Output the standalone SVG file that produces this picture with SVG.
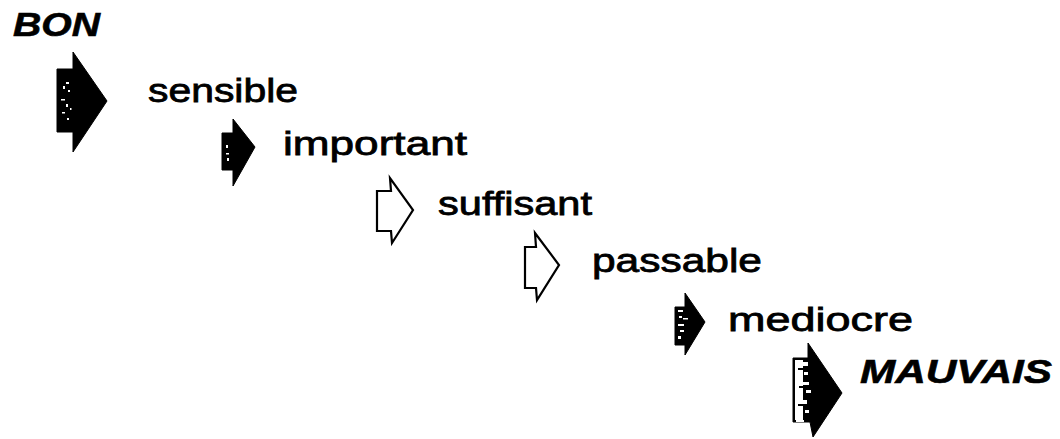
<svg xmlns="http://www.w3.org/2000/svg" width="1060" height="439" viewBox="0 0 1060 439">
  <style>
    .lbl { font-family: "Liberation Sans", Arial, sans-serif; font-size: 34px; fill: #000; stroke: #000; stroke-width: 0.8; }
    .ext { font-weight: bold; font-style: italic; stroke-width: 0.6; }
    .solid { fill: #000; stroke: #000; stroke-width: 1; stroke-linejoin: miter; }
    .hollow { fill: #fff; stroke: #000; stroke-width: 2.2; stroke-linejoin: miter; }
    .speck { fill: #fff; }
    .blob { fill: #000; }
  </style>
  <rect width="1060" height="439" fill="#fff"/>

  <g id="connectors">
    <polygon id="arrow1" class="solid" points="57,69 73,69 73,52 107,101 73,152 73,132 57,132"/>
    <g id="arrow1-specks">
      <rect class="speck" x="66" y="82" width="3" height="2"/>
      <rect class="speck" x="63" y="86" width="2" height="3"/>
      <rect class="speck" x="68" y="90" width="2" height="2"/>
      <rect class="speck" x="61" y="99" width="4" height="1.5"/>
      <rect class="speck" x="66" y="104" width="2" height="3"/>
      <rect class="speck" x="62" y="112" width="3" height="1.5"/>
      <rect class="speck" x="67" y="118" width="2" height="2"/>
      <rect class="speck" x="70" y="108" width="1.5" height="2"/>
    </g>
    <polygon id="arrow2" class="solid" points="222,133 233,133 233,119 255,147 233,186 233,170 222,170"/>
    <g id="arrow2-specks">
      <rect class="speck" x="226" y="145" width="2" height="3"/>
      <rect class="speck" x="226" y="153" width="3" height="1.5"/>
      <rect class="speck" x="227" y="158" width="2" height="3"/>
    </g>
    <polygon id="arrow3" class="hollow" points="377,191 391,191 390,178 413,210 392,243 391,231 377,231"/>
    <polygon id="arrow4" class="hollow" points="525,247 536,247 535,233 559,265 537,300 536,288 525,288"/>
    <polygon id="arrow5" class="solid" points="675,307 685,307 685,293 705,322 685,355 685,345 675,345"/>
    <g id="arrow5-specks">
      <rect class="speck" x="678" y="310" width="5" height="2"/>
      <rect class="speck" x="679" y="316" width="3" height="2"/>
      <rect class="speck" x="683" y="318" width="5" height="1.5"/>
      <rect class="speck" x="678" y="324" width="6" height="2"/>
      <rect class="speck" x="680" y="330" width="4" height="2"/>
      <rect class="speck" x="678" y="336" width="3" height="3"/>
    </g>
    <g id="arrow6">
      <polygon class="solid" points="793,358 808,358 808,343 842,393 813,437 810,422 793,422"/>
      <rect fill="#fff" x="795" y="360" width="8" height="60"/>
      <path class="speck" d="M803,362 h5 v4 h-5 z M804,372 h4 v3 h-4 z M803,382 h6 v3 h-6 z M806,390 h5 v3 h-5 z M803,400 h4 v4 h-4 z M805,410 h4 v3 h-4 z M796,420 h8 v2 h-8 z"/>
      <path d="M794,358 V422" stroke="#000" stroke-width="2" stroke-dasharray="5,4" fill="none"/>
      <path class="blob" d="M798,368 h5 v2 h-5 z M799,386 h4 v2 h-4 z M798,404 h5 v2 h-5 z"/>
    </g>
  </g>

  <g id="node-bon">
    <text class="lbl ext" x="13" y="36" textLength="87" lengthAdjust="spacingAndGlyphs">BON</text>
  </g>
  <g id="node-sensible">
    <text class="lbl" x="148" y="102" textLength="150" lengthAdjust="spacingAndGlyphs">sensible</text>
  </g>
  <g id="node-important">
    <text class="lbl" x="283" y="155" textLength="184" lengthAdjust="spacingAndGlyphs">important</text>
  </g>
  <g id="node-suffisant">
    <text class="lbl" x="438" y="215" textLength="154" lengthAdjust="spacingAndGlyphs">suffisant</text>
  </g>
  <g id="node-passable">
    <text class="lbl" x="592" y="272" textLength="170" lengthAdjust="spacingAndGlyphs">passable</text>
  </g>
  <g id="node-mediocre">
    <text class="lbl" x="728" y="331" textLength="185" lengthAdjust="spacingAndGlyphs">mediocre</text>
  </g>
  <g id="node-mauvais">
    <text class="lbl ext" x="860" y="383" textLength="192" lengthAdjust="spacingAndGlyphs">MAUVAIS</text>
  </g>
</svg>
